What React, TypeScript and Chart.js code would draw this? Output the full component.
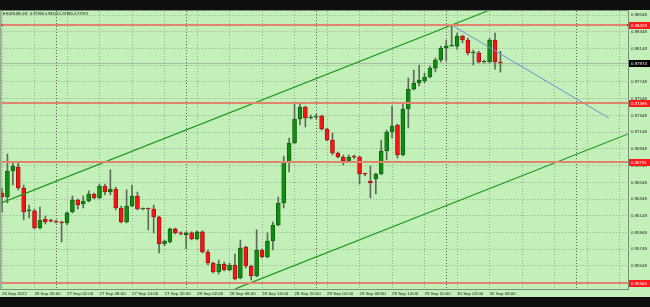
import React, { useEffect, useRef } from "react";
import { Chart, registerables } from "chart.js";
Chart.register(...registerables);

// EURUSD H1 candles, 26 Sep 2022 14:00 onward
const opens = [
  0.96421, 0.96373, 0.96684, 0.96731, 0.9648, 0.96206, 0.96206, 0.96002, 0.9611, 0.96086,
  0.96074, 0.96074, 0.96062, 0.96194, 0.96337, 0.96289, 0.96325, 0.96409, 0.96361, 0.96504,
  0.96433, 0.96468, 0.96241, 0.96074, 0.96265, 0.96385, 0.96229, 0.96231, 0.96229, 0.96134,
  0.95811, 0.95835, 0.95991, 0.95943, 0.95919, 0.95943, 0.95871, 0.95955, 0.95715, 0.95584,
  0.95476, 0.95572, 0.955, 0.9556, 0.95405, 0.95775, 0.95548, 0.95429, 0.95739, 0.95656,
  0.95847, 0.96038, 0.96301, 0.96791, 0.97018, 0.97305, 0.97448, 0.97317, 0.97329, 0.97341,
  0.97185, 0.97054, 0.96899, 0.96851, 0.96803, 0.96851, 0.96849, 0.96648, 0.96564, 0.96588,
  0.96648, 0.96923, 0.9715, 0.97233, 0.96875, 0.97425, 0.97663, 0.97735, 0.97759, 0.97807,
  0.97914, 0.9801, 0.98153, 0.98177, 0.98177, 0.98297, 0.98249, 0.98094, 0.98096, 0.97986,
  0.97988, 0.98249, 0.97986,
];
const highs = [
  0.9648, 0.96887, 0.96791, 0.96779, 0.96516, 0.96277, 0.96229, 0.96253, 0.96146, 0.9611,
  0.96098, 0.96086, 0.96194, 0.96385, 0.96349, 0.96385, 0.96445, 0.96421, 0.96528, 0.96528,
  0.96696, 0.96492, 0.96265, 0.96457, 0.96516, 0.96433, 0.96241, 0.96241, 0.96277, 0.96146,
  0.95859, 0.96002, 0.96002, 0.95955, 0.95955, 0.95955, 0.95967, 0.95967, 0.95739, 0.95596,
  0.9562, 0.95596, 0.95584, 0.95691, 0.95859, 0.95787, 0.9556, 0.95979, 0.95751, 0.95943,
  0.96074, 0.96373, 0.96863, 0.97078, 0.97496, 0.97496, 0.9746, 0.97353, 0.97365, 0.97353,
  0.97197, 0.97138, 0.96911, 0.96875, 0.96875, 0.96875, 0.96863, 0.9666, 0.96743, 0.9666,
  0.97054, 0.97173, 0.9746, 0.97245, 0.97484, 0.97795, 0.97891, 0.9795, 0.97855, 0.97938,
  0.98034, 0.98177, 0.98249, 0.98428, 0.98333, 0.98309, 0.98273, 0.9813, 0.98118, 0.9801,
  0.98273, 0.98333, 0.98113,
];
const lows = [
  0.96194, 0.96301, 0.96516, 0.96457, 0.96098, 0.96122, 0.95991, 0.95991, 0.9605, 0.96074,
  0.96062, 0.95835, 0.96038, 0.96182, 0.96229, 0.96241, 0.96313, 0.96349, 0.96349, 0.96397,
  0.96397, 0.96218, 0.96062, 0.96062, 0.96253, 0.96218, 0.96218, 0.95979, 0.95943, 0.95703,
  0.95787, 0.95823, 0.95931, 0.95919, 0.95751, 0.95859, 0.95859, 0.95703, 0.9556, 0.95464,
  0.95452, 0.95488, 0.95488, 0.95381, 0.95393, 0.95524, 0.95381, 0.95417, 0.95644, 0.95644,
  0.95739, 0.96026, 0.96241, 0.96672, 0.97006, 0.97233, 0.97209, 0.97305, 0.97305, 0.97173,
  0.97042, 0.96875, 0.96839, 0.96755, 0.96791, 0.96827, 0.96528, 0.96624, 0.96361, 0.96409,
  0.96636, 0.96815, 0.97078, 0.96839, 0.96863, 0.97197, 0.97652, 0.97699, 0.97735, 0.97795,
  0.97867, 0.97986, 0.97998, 0.98177, 0.98141, 0.98213, 0.9807, 0.9795, 0.97974, 0.97974,
  0.97974, 0.97902, 0.97865,
];
const closes = [
  0.96373, 0.96684, 0.96743, 0.9648, 0.96194, 0.96218, 0.96002, 0.96098, 0.96074, 0.96084,
  0.96072, 0.96062, 0.96182, 0.96337, 0.96277, 0.96325, 0.96409, 0.96361, 0.96504, 0.96433,
  0.96468, 0.96241, 0.96074, 0.96265, 0.96385, 0.96229, 0.96231, 0.96229, 0.96134, 0.95811,
  0.95847, 0.95991, 0.95943, 0.95931, 0.95943, 0.95871, 0.95955, 0.95715, 0.95584, 0.95476,
  0.95572, 0.955, 0.9556, 0.95393, 0.95763, 0.95548, 0.95429, 0.95739, 0.95656, 0.95847,
  0.96038, 0.96301, 0.96791, 0.97018, 0.97305, 0.97448, 0.97317, 0.97329, 0.97341, 0.97185,
  0.97054, 0.96899, 0.96851, 0.96803, 0.96851, 0.96849, 0.96648, 0.96646, 0.9654, 0.96648,
  0.96923, 0.9715, 0.97221, 0.96875, 0.97425, 0.97663, 0.97735, 0.97771, 0.97807, 0.97914,
  0.9801, 0.98153, 0.98177, 0.98189, 0.98297, 0.98249, 0.98094, 0.98096, 0.97986, 0.97988,
  0.98249, 0.97986, 0.97974,
];

// time axis labels, one every 6 bars (bar index 0, 6, 12, ...)
const timeLabels = [
  "26 Sep 2022", "26 Sep 20:00", "27 Sep 02:00", "27 Sep 08:00", "27 Sep 14:00",
  "27 Sep 20:00", "28 Sep 02:00", "28 Sep 08:00", "28 Sep 14:00", "28 Sep 20:00",
  "29 Sep 02:00", "29 Sep 08:00", "29 Sep 14:00", "29 Sep 20:00", "30 Sep 02:00",
  "30 Sep 08:00",
];
const gridBars = [0, 6, 12, 18, 24, 30, 36, 42, 48, 54, 60, 66, 72, 78, 84, 90, 96, 102, 108, 114];
const daySeparators = [10, 34, 58, 82, 106];

const priceTicks = [
  0.98548, 0.98348, 0.98148, 0.97948, 0.97748, 0.97548, 0.97348, 0.97148,
  0.96948, 0.96748, 0.96548, 0.96348, 0.96148, 0.95948, 0.95748, 0.95548,
];
const levels = [0.98428, 0.97496, 0.96791, 0.95345];
const bidPrice = 0.97974;
const title = "EURUSD,H1  0.97986 0.98113 0.97865 0.97974";

const xMin = -0.13;
const xMax = 115.55;
const yMin = 0.95273;
const yMax = 0.98596;

const upperChannel = [
  { x: -0.13, y: 0.96302 },
  { x: 89.6, y: 0.98596 },
];
const lowerChannel = [
  { x: 43.05, y: 0.95274 },
  { x: 115.55, y: 0.97126 },
];
const blueLine = [
  { x: 83, y: 0.98428 },
  { x: 112, y: 0.97317 },
];

const GREEN_BG = "#c3f0b9";
const UP = "#118c11";
const UP_EDGE = "#0a5c0a";
const DN = "#f21616";
const DN_EDGE = "#a30d0d";
const LEVEL = "#e2846c";
const FONT = "'Liberation Sans', Arial, sans-serif";

const mt4Plugin = {
  id: "mt4",
  beforeDraw(chart: any) {
    const { ctx, width, height } = chart;
    ctx.save();
    ctx.fillStyle = "#0e0e0e";
    ctx.fillRect(0, 0, width, height);
    ctx.fillStyle = GREEN_BG;
    ctx.fillRect(0, 10, width, 287);
    ctx.restore();
  },
  beforeDatasetsDraw(chart: any) {
    const { ctx, chartArea: ca, scales } = chart;
    const xs = scales.x;
    const ys = scales.y;
    ctx.save();
    // period separators
    ctx.strokeStyle = "#56634f";
    ctx.lineWidth = 1;
    ctx.setLineDash([1, 2]);
    daySeparators.forEach((v) => {
      const px = Math.round(xs.getPixelForValue(v)) + 0.5;
      ctx.beginPath();
      ctx.moveTo(px, ca.top);
      ctx.lineTo(px, ca.bottom);
      ctx.stroke();
    });
    ctx.setLineDash([]);
    // bid line
    const by = Math.round(ys.getPixelForValue(bidPrice)) + 0.5;
    ctx.strokeStyle = "#a9bfa4";
    ctx.beginPath();
    ctx.moveTo(ca.left, by);
    ctx.lineTo(ca.right, by);
    ctx.stroke();
    // frame
    ctx.strokeStyle = "#7c8a78";
    ctx.strokeRect(ca.left - 0.5, ca.top - 0.5, ca.right - ca.left + 1, ca.bottom - ca.top + 1);
    ctx.restore();
  },
  afterDraw(chart: any) {
    const { ctx, chartArea: ca, scales } = chart;
    const ys = scales.y;
    ctx.save();
    ctx.font = `4.4px ${FONT}`;
    ctx.textBaseline = "middle";
    const tag = (v: number, bg: string) => {
      const y = ys.getPixelForValue(v);
      ctx.fillStyle = bg;
      ctx.fillRect(ca.right + 1, Math.round(y) - 3, 21, 7);
      ctx.fillStyle = "#ffffff";
      ctx.textAlign = "left";
      ctx.fillText(v.toFixed(5), ca.right + 3, Math.round(y) + 0.5);
    };
    levels.forEach((l) => tag(l, "#ff1a1a"));
    tag(bidPrice, "#000000");
    // title
    ctx.fillStyle = "#111";
    ctx.font = `3.8px ${FONT}`;
    ctx.fillText("\u25BC", 2, 14);
    ctx.fillText(title, 6, 14);
    ctx.restore();
  },
};

export default function App() {
  const ref = useRef<HTMLCanvasElement>(null);
  useEffect(() => {
    if (!ref.current) return;
    const idx = opens.map((_, i) => i);
    const bodies = idx.map((i) => ({ x: i, y: [opens[i], closes[i]] }));
    const wicks = idx.map((i) => ({ x: i, y: [lows[i], highs[i]] }));
    const isUp = idx.map((i) => closes[i] >= opens[i]);
    const levelSets = levels.map((l, n) => ({
      type: "line" as const,
      data: [
        { x: xMin, y: l },
        { x: xMax, y: l },
      ],
      borderColor: LEVEL,
      borderWidth: 2,
      pointRadius: n === 0 ? 1.5 : 0,
      pointStyle: "rect" as const,
      pointBackgroundColor: "#ff0000",
      pointBorderWidth: 0,
      order: 1,
    }));
    const chart = new Chart(ref.current, {
      type: "bar",
      data: {
        datasets: [
          ...levelSets,
          {
            type: "line",
            data: upperChannel,
            borderColor: "#1f9a1f",
            borderWidth: 1.2,
            pointRadius: 0,
            order: 1,
          },
          {
            type: "line",
            data: lowerChannel,
            borderColor: "#1f9a1f",
            borderWidth: 1.2,
            pointRadius: 0,
            order: 1,
          },
          {
            type: "line",
            data: blueLine,
            borderColor: "#6b93d6",
            borderWidth: 1,
            pointRadius: 0,
            order: 1,
          },
          {
            type: "bar",
            data: bodies as any,
            backgroundColor: isUp.map((u) => (u ? UP : DN)),
            borderColor: isUp.map((u) => (u ? UP_EDGE : DN_EDGE)),
            borderWidth: 0.8,
            borderSkipped: false,
            barThickness: 4,
            minBarLength: 1,
            grouped: false,
            order: 4,
          } as any,
          {
            type: "bar",
            data: wicks as any,
            backgroundColor: "#5f6a5c",
            borderWidth: 0,
            barThickness: 1,
            minBarLength: 1,
            grouped: false,
            order: 5,
          } as any,
        ],
      },
      options: {
        animation: false,
        responsive: false,
        maintainAspectRatio: false,
        events: [],
        layout: {
          autoPadding: false,
          padding: { top: 11, left: 1, right: 0, bottom: 10 },
        } as any,
        plugins: {
          legend: { display: false },
          tooltip: { enabled: false },
        },
        scales: {
          x: {
            type: "linear",
            min: xMin,
            max: xMax,
            offset: false,
            afterBuildTicks: (s: any) => {
              s.ticks = gridBars.map((v) => ({ value: v }));
            },
            afterFit: (s: any) => {
              s.height = 8;
            },
            grid: {
              offset: false,
              color: "#97ad92",
              lineWidth: 1,
              drawTicks: false,
              tickLength: 0,
            },
            border: { display: false, dash: [1, 2] },
            ticks: {
              autoSkip: false,
              maxRotation: 0,
              minRotation: 0,
              align: "start",
              padding: 2,
              color: "#222",
              font: { size: 4.4, family: FONT },
              callback: (v: any) => {
                const n = Math.round(Number(v) / 6);
                return timeLabels[n] ?? "";
              },
            },
          },
          y: {
            type: "linear",
            position: "right",
            min: yMin,
            max: yMax,
            afterBuildTicks: (s: any) => {
              s.ticks = priceTicks.map((v) => ({ value: v }));
            },
            afterFit: (s: any) => {
              s.width = 22;
            },
            grid: {
              color: "#97ad92",
              lineWidth: 1,
              drawTicks: false,
              tickLength: 0,
            },
            border: { display: false, dash: [1, 2] },
            ticks: {
              padding: 3,
              color: "#222",
              crossAlign: "near",
              font: { size: 4.4, family: FONT },
              callback: (v: any) => Number(v).toFixed(5),
            },
          },
        },
      },
      plugins: [mt4Plugin],
    } as any);
    return () => chart.destroy();
  }, []);
  return (
    <div style={{ position: "absolute", left: 0, top: 0, width: 650, height: 307 }}>
      <canvas ref={ref} width={650} height={307} style={{ display: "block" }} />
    </div>
  );
}
